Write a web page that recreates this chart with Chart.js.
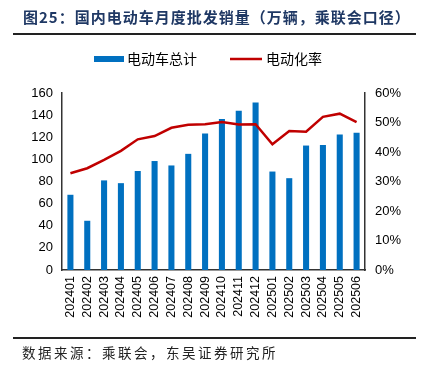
<!DOCTYPE html>
<html>
<head>
<meta charset="utf-8">
<script src="https://cdn.jsdelivr.net/npm/chart.js@4"></script>
<style>
  html, body { margin: 0; padding: 0; background: #fff; }
  #wrap { position: relative; width: 428px; height: 371px; }
</style>
</head>
<body>
<div id="wrap"><canvas id="chart-data" width="428" height="371"></canvas></div>
<script>
var months = ["202401", "202402", "202403", "202404", "202405", "202406", "202407", "202408", "202409",
    "202410", "202411", "202412", "202501", "202502", "202503", "202504", "202505", "202506"];
var evSales = [68, 44.5, 81, 78.5, 89.5, 98.5, 94.5, 105, 123.5, 136.5, 144, 151.5, 89, 83, 112.5, 113, 122.5, 124];
var evRate = [32.8, 34.5, 37.3, 40.4, 44.3, 45.4, 48.2, 49.2, 49.4, 50.2, 49.3, 49.4, 42.6, 47.1, 46.9, 51.9, 53, 50.1];
var leftTicks = [0, 20, 40, 60, 80, 100, 120, 140, 160];
var rightTicks = [0, 10, 20, 30, 40, 50, 60];

var titleText = "图25：国内电动车月度批发销量（万辆，乘联会口径）";
var sourceText = "数据来源：乘联会，东吴证券研究所";

var decor = {
    id: "decor",
    afterDraw: function (chart) {
        var c = chart.ctx;
        c.save();
        // title
        c.fillStyle = "#1f3864";
        c.font = "bold 15px 'Noto Sans CJK SC'";
        c.textBaseline = "middle";
        c.letterSpacing = "1px";
        c.fillText(titleText, 23, 17);
        // rules
        c.fillStyle = "#222";
        c.fillRect(13, 33, 403, 2);
        c.fillRect(13, 337, 403, 2);
        // source
        c.fillStyle = "#222";
        c.font = "13.5px 'Noto Sans CJK SC'";
        c.letterSpacing = "2.5px";
        c.fillText(sourceText, 22, 353);
        // legend
        c.letterSpacing = "0px";
        c.font = "14px 'Noto Sans CJK SC'";
        c.fillStyle = "#0070c0";
        c.fillRect(94, 56, 30, 6);
        c.fillStyle = "#000";
        c.fillText(chart.data.datasets[1].label, 127, 59);
        c.strokeStyle = "#c00000";
        c.lineWidth = 2.5;
        c.beginPath();
        c.moveTo(230, 59);
        c.lineTo(262, 59);
        c.stroke();
        c.fillText(chart.data.datasets[0].label, 266, 59);
        c.restore();
    }
};

var ctx = document.getElementById("chart-data").getContext("2d");
var chart = new Chart(ctx, {
    type: "bar",
    data: {
        labels: months,
        datasets: [
            {
                type: "line",
                label: "电动化率",
                data: evRate,
                yAxisID: "y1",
                borderColor: "#c00000",
                borderWidth: 2.5,
                pointRadius: 0,
                tension: 0,
                order: 0,
            },
            {
                label: "电动车总计",
                data: evSales,
                yAxisID: "y",
                backgroundColor: "#0070c0",
                barPercentage: 0.36,
                categoryPercentage: 1,
                order: 1,
            },
        ],
    },
    options: {
        responsive: false,
        animation: false,
        layout: { padding: { top: 93, left: 0, right: 0, bottom: 0 } },
        plugins: {
            legend: { display: false },
            tooltip: { enabled: false },
        },
        scales: {
            x: {
                grid: { display: false, drawTicks: false },
                border: { color: "#333", width: 1.5 },
                ticks: {
                    color: "#000",
                    minRotation: 90,
                    maxRotation: 90,
                    autoSkip: false,
                    padding: 6,
                    font: { family: "'Liberation Sans', Arial", size: 12.5 },
                },
                afterFit: function (scale) { scale.height = 101; },
            },
            y: {
                position: "left",
                min: 0,
                max: 160,
                afterBuildTicks: function (scale) {
                    scale.ticks = leftTicks.map(function (v) { return { value: v }; });
                },
                grid: { display: false, drawTicks: true, tickLength: 3 },
                border: { color: "#333", width: 1.5 },
                ticks: {
                    color: "#000",
                    padding: 6,
                    font: { family: "'Liberation Sans', Arial", size: 13 },
                },
                afterFit: function (scale) { scale.width = 62; },
            },
            y1: {
                position: "right",
                min: 0,
                max: 60,
                afterBuildTicks: function (scale) {
                    scale.ticks = rightTicks.map(function (v) { return { value: v }; });
                },
                grid: { display: false, drawTicks: true, tickLength: 3 },
                border: { color: "#333", width: 1.5 },
                ticks: {
                    color: "#000",
                    padding: 7,
                    font: { family: "'Liberation Sans', Arial", size: 13 },
                    callback: function (v) { return v + "%"; },
                },
                afterFit: function (scale) { scale.width = 63; },
            },
        },
    },
    plugins: [decor],
});
</script>
</body>
</html>
